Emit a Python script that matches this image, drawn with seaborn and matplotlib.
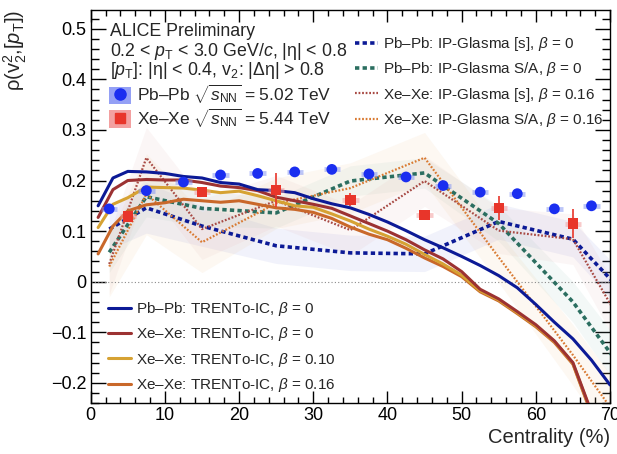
import numpy as np
import pandas as pd
import matplotlib
matplotlib.use("Agg")
import matplotlib.pyplot as plt
import seaborn as sns
from matplotlib.lines import Line2D
from matplotlib.patches import Patch
from matplotlib.ticker import MultipleLocator

# ---- measured rho(v2^2,[pT]) ----
cent_pb = [2.5, 7.5, 12.5, 17.5, 22.5, 27.5, 32.5, 37.5, 42.5, 47.5, 52.5, 57.5, 62.5, 67.5]
rho_pb = [0.144, 0.180, 0.197, 0.211, 0.214, 0.217, 0.222, 0.213, 0.207, 0.190, 0.177, 0.174, 0.144, 0.150]

cent_xe = [5, 15, 25, 35, 45, 55, 65]
rho_xe = [0.129, 0.177, 0.181, 0.162, 0.132, 0.145, 0.115]
err_xe = [0.005, 0.006, 0.033, 0.013, 0.004, 0.024, 0.028]

# ---- IP-Glasma calculations ----
ipg_cent = [2.5, 7.5, 15, 25, 35, 45, 55, 65, 75]
pb_ipg_s = [0.104, 0.146, 0.110, 0.071, 0.057, 0.055, 0.119, 0.084, -0.072]
pb_ipg_s_err = [0.04, 0.05, 0.04, 0.035, 0.035, 0.035, 0.035, 0.035, 0.04]
pb_ipg_sa = [0.058, 0.168, 0.145, 0.136, 0.199, 0.215, 0.115, -0.040, -0.240]
pb_ipg_sa_err = [0.04, 0.04, 0.035, 0.03, 0.03, 0.03, 0.035, 0.04, 0.05]
xe_ipg_s = [0.035, 0.245, 0.104, 0.160, 0.102, 0.199, 0.101, 0.084, -0.170]
xe_ipg_s_err = [0.06, 0.06, 0.06, 0.05, 0.05, 0.05, 0.045, 0.05, 0.06]
xe_ipg_sa = [0.030, 0.173, 0.078, 0.155, 0.185, 0.245, 0.048, -0.145, -0.350]
xe_ipg_sa_err = [0.06, 0.08, 0.06, 0.05, 0.05, 0.05, 0.05, 0.06, 0.07]

# ---- TRENTo-IC calculations ----
trento_cent = [1, 3, 5, 7.5, 10, 12.5, 15, 17.5, 20, 22.5, 25, 27.5, 30, 32.5, 35,
               37.5, 40, 42.5, 45, 47.5, 50, 52.5, 55, 57.5, 60, 62.5, 65, 67.5, 70]
pb_trento_b0 = [0.150, 0.205, 0.218, 0.217, 0.214, 0.208, 0.205, 0.196, 0.193, 0.182, 0.180,
                0.176, 0.164, 0.154, 0.146, 0.133, 0.118, 0.101, 0.083, 0.067, 0.050, 0.032,
                0.012, -0.012, -0.045, -0.080, -0.113, -0.155, -0.204]
xe_trento_b0 = [0.127, 0.182, 0.200, 0.202, 0.201, 0.201, 0.196, 0.189, 0.186, 0.180, 0.167,
                0.160, 0.153, 0.145, 0.130, 0.115, 0.100, 0.083, 0.063, 0.045, 0.020, -0.015,
                -0.034, -0.059, -0.085, -0.117, -0.160, -0.258, -0.360]
xe_trento_b10 = [0.107, 0.153, 0.166, 0.187, 0.186, 0.185, 0.181, 0.176, 0.179, 0.170, 0.160,
                 0.150, 0.147, 0.134, 0.120, 0.104, 0.090, 0.074, 0.054, 0.035, 0.013, -0.018,
                 -0.036, -0.061, -0.087, -0.118, -0.161, -0.260, -0.360]
xe_trento_b16 = [0.055, 0.110, 0.140, 0.152, 0.156, 0.163, 0.160, 0.157, 0.160, 0.153, 0.146,
                 0.143, 0.137, 0.125, 0.108, 0.094, 0.083, 0.066, 0.047, 0.030, 0.010, -0.020,
                 -0.038, -0.063, -0.089, -0.120, -0.163, -0.262, -0.362]

# ---- style ----
sns.set_theme(style="ticks")
plt.rcParams.update({
    "font.family": ["Liberation Sans", "DejaVu Sans"],
    "mathtext.fontset": "custom",
    "mathtext.rm": "Liberation Sans",
    "mathtext.it": "Liberation Sans:italic",
    "mathtext.bf": "Liberation Sans:bold",
    "axes.linewidth": 1.0,
    "axes.edgecolor": "black",
})

C_PB = "#1a2ef0"
C_XE = "#e8352a"
C_NAVY = "#0c1a96"
C_TEAL = "#2b6e60"
C_XE_S = "#a84a44"
C_XE_SA = "#d97a32"
C_XE_B0 = "#9c3232"
C_XE_B10 = "#d6a233"
C_XE_B16 = "#c9682a"

fig = plt.figure(figsize=(6.17, 4.54), dpi=100)
ax = fig.add_axes([0.147, 0.112, 0.8417, 0.866])

# uncertainty bands of the IP-Glasma curves
bands = [
    (pb_ipg_s, pb_ipg_s_err, "#9098e0", 0.12),
    (pb_ipg_sa, pb_ipg_sa_err, "#8cc0b4", 0.10),
    (xe_ipg_s, xe_ipg_s_err, "#e0a8a8", 0.10),
    (xe_ipg_sa, xe_ipg_sa_err, "#f0c898", 0.12),
]
for vals, errs, col, a in bands:
    v = np.array(vals)
    e = np.array(errs)
    ax.fill_between(ipg_cent, v - e, v + e, color=col, alpha=a, lw=0, zorder=1)

ax.axhline(0, color="#8a8a8a", lw=0.8, ls=(0, (1, 2)), zorder=1.5)

# IP-Glasma curves
ipg = pd.DataFrame({"cent": ipg_cent, "pb_s": pb_ipg_s, "pb_sa": pb_ipg_sa,
                    "xe_s": xe_ipg_s, "xe_sa": xe_ipg_sa})
sns.lineplot(data=ipg, x="cent", y="pb_s", color=C_NAVY, lw=2.6,
             linestyle=(0, (1.2, 0.9)), ax=ax, zorder=3)
sns.lineplot(data=ipg, x="cent", y="pb_sa", color=C_TEAL, lw=2.6,
             linestyle=(0, (1.2, 0.9)), ax=ax, zorder=3)
sns.lineplot(data=ipg, x="cent", y="xe_s", color=C_XE_S, lw=1.6,
             linestyle=(0, (0.8, 0.8)), ax=ax, zorder=3)
sns.lineplot(data=ipg, x="cent", y="xe_sa", color=C_XE_SA, lw=1.6,
             linestyle=(0, (0.8, 0.8)), ax=ax, zorder=3)

# TRENTo-IC curves
tr = pd.DataFrame({"cent": trento_cent, "pb0": pb_trento_b0, "xe0": xe_trento_b0,
                   "xe10": xe_trento_b10, "xe16": xe_trento_b16})
sns.lineplot(data=tr, x="cent", y="xe16", color=C_XE_B16, lw=2.2, ax=ax, zorder=4)
sns.lineplot(data=tr, x="cent", y="xe10", color=C_XE_B10, lw=2.2, ax=ax, zorder=4)
sns.lineplot(data=tr, x="cent", y="xe0", color=C_XE_B0, lw=2.2, ax=ax, zorder=4)
sns.lineplot(data=tr, x="cent", y="pb0", color=C_NAVY, lw=2.2, ax=ax, zorder=4)

# data: systematic boxes, stat. errors, markers
ax.errorbar(cent_pb, rho_pb, xerr=1.1, fmt="none", ecolor="#8898f4",
            elinewidth=3.5, alpha=0.55, zorder=5)
ax.errorbar(cent_xe, rho_xe, xerr=1.1, fmt="none", ecolor="#f4a0a0",
            elinewidth=3.5, alpha=0.55, zorder=5)
ax.errorbar(cent_xe, rho_xe, yerr=err_xe, fmt="none", ecolor=C_XE,
            elinewidth=1.2, zorder=6)
sns.scatterplot(x=cent_pb, y=rho_pb, color=C_PB, marker="o", s=60,
                edgecolor="none", ax=ax, zorder=7)
sns.scatterplot(x=cent_xe, y=rho_xe, color=C_XE, marker="s", s=55,
                edgecolor="none", ax=ax, zorder=7)

# axes
ax.set_xlim(0, 70)
ax.set_ylim(-0.24, 0.537)
ax.xaxis.set_major_locator(MultipleLocator(10))
ax.xaxis.set_minor_locator(MultipleLocator(2))
ax.yaxis.set_major_locator(MultipleLocator(0.1))
ax.yaxis.set_minor_locator(MultipleLocator(0.02))
ax.tick_params(which="both", direction="in", top=True, right=True, labelsize=13,
               width=1.0, colors="black")
ax.tick_params(axis="x", which="major", length=8.5, pad=3)
ax.tick_params(axis="x", which="minor", length=4.5)
ax.tick_params(axis="y", which="major", length=10.5, pad=3)
ax.tick_params(axis="y", which="minor", length=5.5)
ax.yaxis.set_major_formatter(matplotlib.ticker.FuncFormatter(
    lambda v, p: "0" if abs(v) < 1e-9 else f"{v:.1f}".replace("-", "\u2212")))

ax.set_xlabel("Centrality (%)", fontsize=14.5, loc="right", labelpad=3)
ax.set_ylabel("ρ(v$_2^2$,[$p_\\mathrm{T}$])", fontsize=14.5, loc="top", labelpad=16)

# header text
fs_head = 12.8
ax.text(0.037, 0.946, "ALICE Preliminary", transform=ax.transAxes, fontsize=fs_head,
        va="center", ha="left")
ax.text(0.037, 0.895, "0.2 < $p_\\mathrm{T}$ < 3.0 GeV/$c$, |η| < 0.8",
        transform=ax.transAxes, fontsize=fs_head, va="center", ha="left")
ax.text(0.037, 0.845, "[$p_\\mathrm{T}$]: |η| < 0.4, v$_2$: |Δη| > 0.8",
        transform=ax.transAxes, fontsize=fs_head, va="center", ha="left")

# data legend
h_pb = (Patch(facecolor="#7080f2", alpha=0.75, edgecolor="none"),
        Line2D([], [], color=C_PB, marker="o", ls="none", markersize=8))
h_xe = (Patch(facecolor="#f08080", alpha=0.75, edgecolor="none"),
        Line2D([], [], color=C_XE, marker="s", ls="none", markersize=7.5))
leg1 = ax.legend([h_pb, h_xe],
                 ["Pb–Pb $\\sqrt{s_{\\mathrm{NN}}}$ = 5.02 TeV",
                  "Xe–Xe $\\sqrt{s_{\\mathrm{NN}}}$ = 5.44 TeV"],
                 loc="upper left", bbox_to_anchor=(0.036, 0.815), frameon=False,
                 fontsize=12.5, handlelength=1.25, handleheight=1.15, handletextpad=0.35,
                 labelspacing=0.05, borderpad=0.0, borderaxespad=0.0)
ax.add_artist(leg1)

# IP-Glasma legend
fs_leg = 11
ipg_handles = [
    Line2D([], [], color=C_NAVY, lw=2.6, ls=(0, (1.2, 0.9))),
    Line2D([], [], color=C_TEAL, lw=2.6, ls=(0, (1.2, 0.9))),
    Line2D([], [], color=C_XE_S, lw=1.6, ls=(0, (0.8, 0.8))),
    Line2D([], [], color=C_XE_SA, lw=1.6, ls=(0, (0.8, 0.8))),
]
ipg_labels = ["Pb–Pb: IP-Glasma [s], $\\beta$ = 0",
              "Pb–Pb: IP-Glasma S/A, $\\beta$ = 0",
              "Xe–Xe: IP-Glasma [s], $\\beta$ = 0.16",
              "Xe–Xe: IP-Glasma S/A, $\\beta$ = 0.16"]
leg2 = ax.legend(ipg_handles, ipg_labels, loc="upper left",
                 bbox_to_anchor=(0.509, 0.936), frameon=False, fontsize=fs_leg,
                 handlelength=1.5, handletextpad=0.33, labelspacing=0.48,
                 borderpad=0.0, borderaxespad=0.0)
ax.add_artist(leg2)

# TRENTo legend
tr_handles = [
    Line2D([], [], color=C_NAVY, lw=2.2),
    Line2D([], [], color=C_XE_B0, lw=2.2),
    Line2D([], [], color=C_XE_B10, lw=2.2),
    Line2D([], [], color=C_XE_B16, lw=2.2),
]
tr_labels = ["Pb–Pb: TRENTo-IC, $\\beta$ = 0",
             "Xe–Xe: TRENTo-IC, $\\beta$ = 0",
             "Xe–Xe: TRENTo-IC, $\\beta$ = 0.10",
             "Xe–Xe: TRENTo-IC, $\\beta$ = 0.16"]
ax.legend(tr_handles, tr_labels, loc="upper left", bbox_to_anchor=(0.033, 0.262),
          frameon=False, fontsize=fs_leg, handlelength=1.5, handletextpad=0.33,
          labelspacing=0.48, borderpad=0.0, borderaxespad=0.0)

fig.savefig("out.png", dpi=100)
